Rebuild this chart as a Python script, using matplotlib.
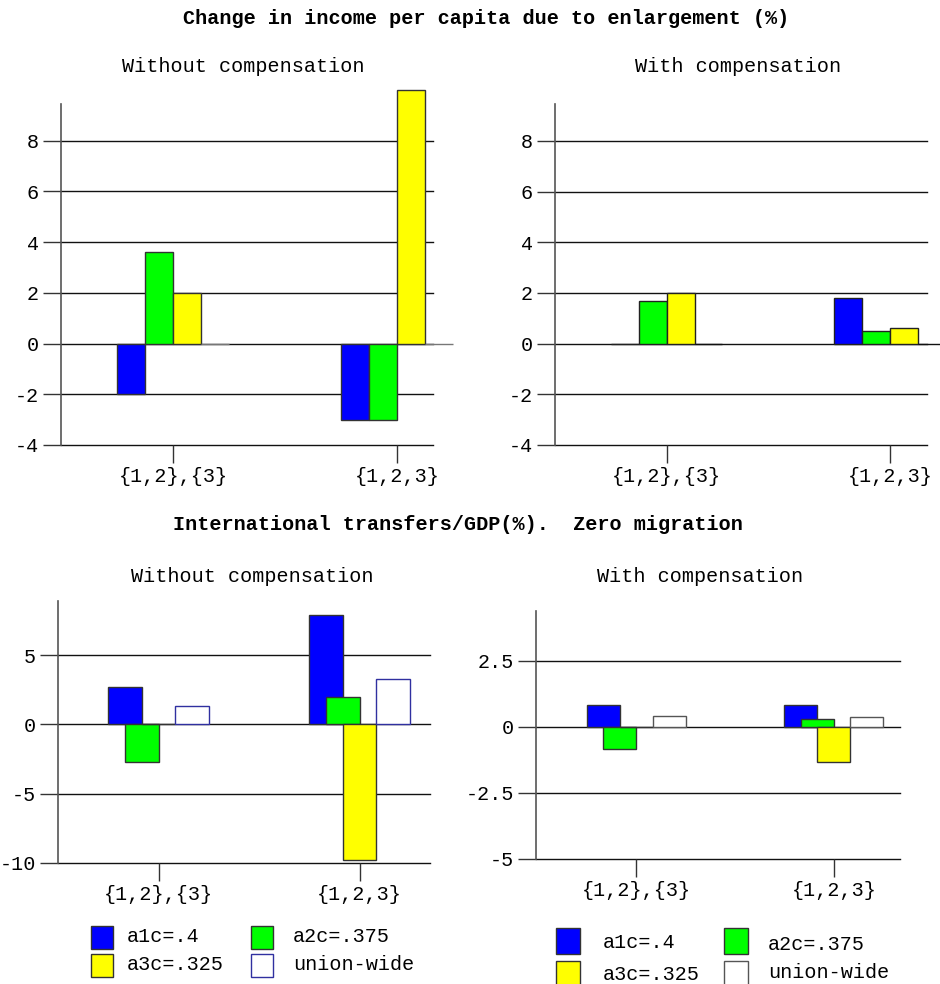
import matplotlib
matplotlib.use("Agg")
import matplotlib.pyplot as plt
from matplotlib.patches import Rectangle
import numpy as np

plt.rcParams['font.family'] = ['Liberation Mono', 'DejaVu Sans Mono']
plt.rcParams['axes.unicode_minus'] = False

# ---------------- data ----------------
categories = ["{1,2},{3}", "{1,2,3}"]
series_names = ["a1c=.4", "a2c=.375", "a3c=.325", "union-wide"]

income_without = {"a1c": [-2.0, -3.0], "a2c": [3.6, -3.0], "a3c": [2.0, 10.0], "union": [0.0, 0.0]}
income_with = {"a1c": [0.0, 1.8], "a2c": [1.7, 0.5], "a3c": [2.0, 0.6], "union": [0.0, 0.0]}
transfers_without = {"a1c": [2.7, 7.9], "a2c": [-2.72, 1.95], "a3c": [0.0, -9.8], "union": [1.35, 3.3]}
transfers_with = {"a1c": [0.82, 0.83], "a2c": [-0.82, 0.31], "a3c": [0.0, -1.31], "union": [0.42, 0.39]}

top_yticks = [-4, -2, 0, 2, 4, 6, 8]
bl_yticks = [-10, -5, 0, 5]
br_yticks = [-5, -2.5, 0, 2.5]
br_yticklabels = ["-5", "-2.5", "0", "2.5"]

main_title_1 = "Change in income per capita due to enlargement (%)"
main_title_2 = "International transfers/GDP(%).  Zero migration"
sub_without = "Without compensation"
sub_with = "With compensation"

# ---------------- style ----------------
colors = ["#0000FF", "#00FF00", "#FFFF00", "#FFFFFF"]
keys = ["a1c", "a2c", "a3c", "union"]
FS = 14.5
W, H = 940, 984

fig = plt.figure(figsize=(9.4, 9.84), dpi=100)


def ax_rect(l, r, b, t):
    return [l / W, 1 - b / H, (r - l) / W, (b - t) / H]


def style_axes(ax, xlim, ylim, yticks, ylabels=None):
    ax.set_xlim(*xlim)
    ax.set_ylim(*ylim)
    ax.set_yticks(yticks)
    if ylabels is not None:
        ax.set_yticklabels(ylabels)
    ax.set_xticks([0, 1])
    ax.set_xticklabels(categories)
    for s in ["top", "right", "bottom"]:
        ax.spines[s].set_visible(False)
    ax.spines["left"].set_color("#555555")
    ax.spines["left"].set_linewidth(1.2)
    ax.tick_params(axis="y", length=13, width=1, color="#333333", labelsize=FS, pad=3)
    ax.tick_params(axis="x", length=13, width=1, color="#333333", labelsize=FS, pad=3)
    for yv in yticks:
        ax.axhline(yv, color="#111111", lw=1, zorder=1, clip_on=False)
    ax.patch.set_alpha(0)


def draw_bars(ax, data, offsets, width, union_edge, edge="#333333"):
    x = np.arange(len(categories))
    for i, k in enumerate(keys):
        ec = union_edge if k == "union" else edge
        ax.bar(x + offsets[i], data[k], width=width, color=colors[i],
               edgecolor=ec, linewidth=1, zorder=3, clip_on=False)


# Top-left
ax1 = fig.add_axes(ax_rect(61, 433, 445, 104))
style_axes(ax1, (-0.5, 1.16), (-4, 9.45), top_yticks)
draw_bars(ax1, income_without, [-0.1875, -0.0625, 0.0625, 0.1875], 0.125, "#777777")

# Top-right
ax2 = fig.add_axes(ax_rect(555, 927, 445, 104))
style_axes(ax2, (-0.5, 1.166), (-4, 9.46), top_yticks)
draw_bars(ax2, income_with, [-0.1875, -0.0625, 0.0625, 0.1875], 0.125, "#111111", edge="#222222")

# Bottom-left
ax3 = fig.add_axes(ax_rect(58, 430, 863, 601))
style_axes(ax3, (-0.5, 1.35), (-10, 8.9), bl_yticks)
u = 1 / 12
draw_bars(ax3, transfers_without, [-2 * u, -u, 0, 2 * u], 2 * u, "#3030A0")

# Bottom-right
ax4 = fig.add_axes(ax_rect(536, 900, 859, 611))
style_axes(ax4, (-0.507, 1.335), (-5, 4.39), br_yticks, br_yticklabels)
draw_bars(ax4, transfers_with, [-2 * u, -u, 0, 2 * u], 2 * u, "#555555")

# Titles
def ftext(x, y, s, **kw):
    fig.text(x / W, 1 - y / H, s, ha="center", va="center", fontsize=FS, **kw)

ftext(486, 18, main_title_1, fontweight="bold")
ftext(243, 67, sub_without)
ftext(738, 67, sub_with)
ftext(458, 525, main_title_2, fontweight="bold")
ftext(252, 577, sub_without)
ftext(700, 577, sub_with)

# Legends
def legend(patch_x, text_x, rows, pw, ph, edges):
    idx = 0
    for r in range(2):
        for c in range(2):
            ptop, tcy = rows[r][c]
            rect = Rectangle((patch_x[c] / W, 1 - (ptop + ph) / H), pw / W, ph / H,
                             transform=fig.transFigure, facecolor=colors[idx],
                             edgecolor=edges[idx], linewidth=1)
            fig.patches.append(rect)
            fig.text(text_x[c] / W, 1 - tcy / H, series_names[idx], ha="left", va="center", fontsize=FS)
            idx += 1

legend([91, 251], [127, 293], [[(926, 937), (926, 937)], [(954, 965), (954, 965)]], 22, 23,
       ["#333333", "#333333", "#333333", "#3030A0"])
legend([556, 724], [603, 768], [[(928, 942), (928, 945)], [(961, 974), (961, 973)]], 24, 26,
       ["#333333", "#333333", "#333333", "#555555"])

fig.savefig("out.png", dpi=100)
